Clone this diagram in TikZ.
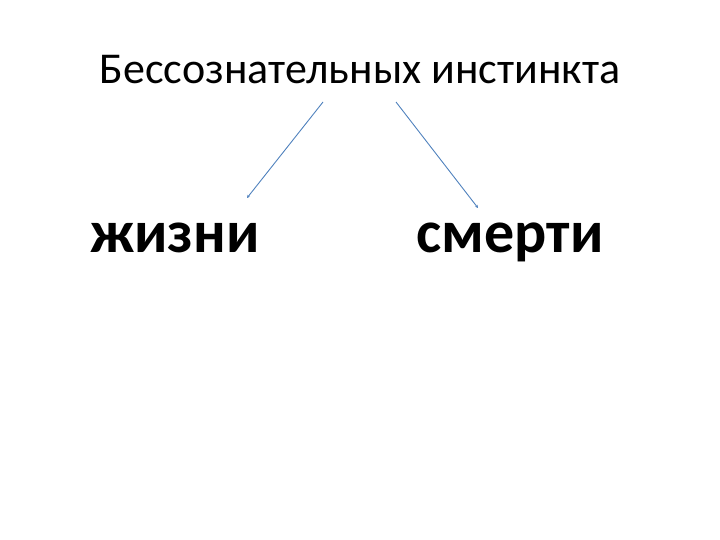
\documentclass[tikz,border=0pt]{standalone}
\usepackage{fontspec}
\setmainfont{Carlito}
\usepackage{tikz}
\usetikzlibrary{positioning, arrows.meta}
\definecolor{linkblue}{RGB}{79,129,189}

\begin{document}
\begin{tikzpicture}[
    x=1pt, y=-1pt,
    every node/.style={inner sep=0pt, anchor=base},
    word/.style={font=\fontsize{60}{70}\selectfont\bfseries},
    every path/.style={draw=linkblue, line width=0.9pt, -{Stealth[length=3pt, width=3pt]}}
]
\useasboundingbox[draw=none, -] (0,0) rectangle (720,540);

% Nodes
\node[font=\fontsize{44}{52}\selectfont] (title) at (360,84) {Бессознательных инстинкта};
\node[word] (life) at (175,252) {жизни};
\node[word] (death) at (510,252) {смерти};

% Arrow ends
\coordinate (lefttop) at (323,102);
\coordinate (leftend) at (247,198);
\coordinate (righttop) at (396,102);
\coordinate (rightend) at (478,208);

% Paths
\draw (lefttop) -- (leftend);
\draw (righttop) -- (rightend);

\end{tikzpicture}
\end{document}
